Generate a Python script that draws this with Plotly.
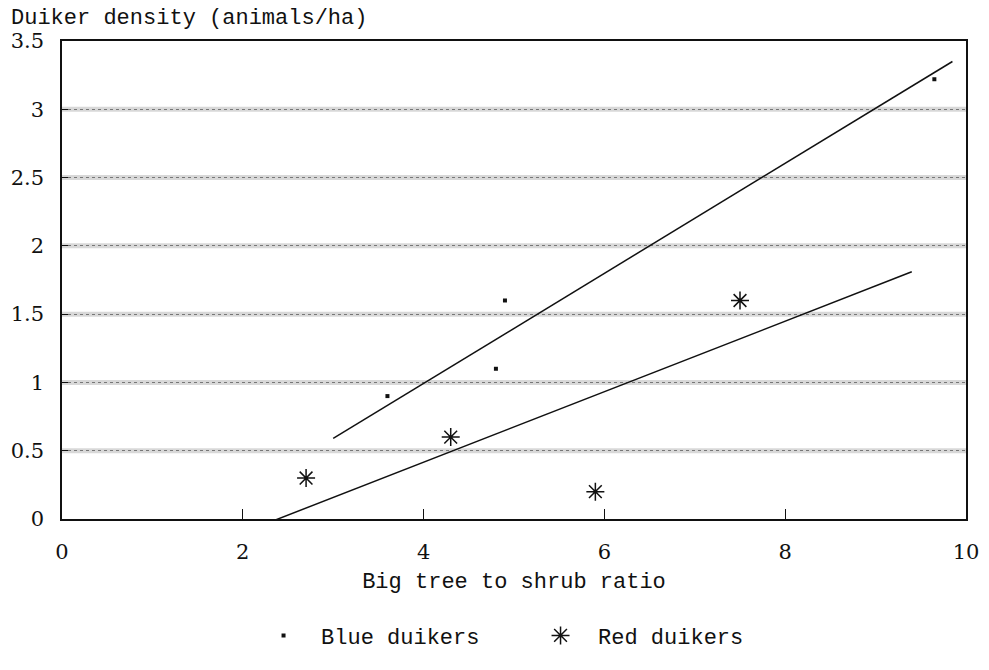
import plotly.graph_objects as go

# Data
blue_x = [3.6, 4.8, 4.9, 9.65]
blue_y = [0.9, 1.1, 1.6, 3.22]
red_x = [2.7, 4.3, 5.9, 7.5]
red_y = [0.3, 0.6, 0.2, 1.6]

# Fitted lines (end points)
blue_fit_x = [3.0, 9.85]
blue_fit_y = [0.59, 3.35]
red_fit_x = [2.35, 9.4]
red_fit_y = [-0.01, 1.81]

x_ticks = [0, 2, 4, 6, 8, 10]
y_ticks = [0, 0.5, 1, 1.5, 2, 2.5, 3, 3.5]
y_tick_text = ["0", "0.5", "1", "1.5", "2", "2.5", "3", "3.5"]
grid_vals = [0.5, 1, 1.5, 2, 2.5, 3]

TXT = "Liberation Mono"
NUM = "DejaVu Serif"

fig = go.Figure()
fig.add_trace(go.Scatter(x=blue_fit_x, y=blue_fit_y, mode="lines",
                         line=dict(color="#111", width=1.5), showlegend=False, hoverinfo="skip"))
fig.add_trace(go.Scatter(x=red_fit_x, y=red_fit_y, mode="lines",
                         line=dict(color="#111", width=1.5), showlegend=False, hoverinfo="skip"))
fig.add_trace(go.Scatter(x=blue_x, y=blue_y, mode="markers", name="Blue duikers",
                         marker=dict(symbol="square", size=4, color="#111")))
fig.add_trace(go.Scatter(x=red_x, y=red_y, mode="markers", name="Red duikers",
                         marker=dict(symbol="asterisk-open", size=15, color="#111",
                                     line=dict(color="#111", width=1.5))))

# soft gray bands under the dotted grid lines
shapes = [dict(type="line", xref="paper", yref="y", x0=0, x1=1, y0=v, y1=v,
               layer="below", line=dict(color="#d8d8d8", width=5)) for v in grid_vals]

fig.update_layout(
    width=989, height=670,
    margin=dict(l=62, r=23, t=41, b=151),
    paper_bgcolor="white", plot_bgcolor="white",
    font=dict(family=TXT, size=22, color="#111"),
    xaxis=dict(range=[0, 10], tickvals=x_ticks, ticks="inside", ticklen=10,
               tickcolor="#111", showline=True, linecolor="#111", linewidth=1.5,
               mirror=True, showgrid=False, zeroline=False, automargin=False,
               ticklabelstandoff=13,
               tickfont=dict(family=NUM, size=21, color="#111"),
               title=dict(text="Big tree to shrub ratio", standoff=10,
                          font=dict(family=TXT, size=22))),
    yaxis=dict(range=[0, 3.5], tickvals=y_ticks, ticktext=y_tick_text,
               ticks="inside", ticklen=6, tickcolor="#111", automargin=False,
               ticklabelstandoff=12,
               showline=True, linecolor="#111", linewidth=1.5, mirror=True,
               showgrid=True, gridcolor="#777", gridwidth=1, griddash="dot",
               zeroline=False,
               tickfont=dict(family=NUM, size=21, color="#111")),
    legend=dict(orientation="h", x=0.51, xanchor="center", y=-0.2, yanchor="top",
                font=dict(family=TXT, size=22), itemwidth=65, entrywidth=197),
    shapes=shapes,
    annotations=[dict(text="Duiker density (animals/ha)", xref="paper", yref="paper",
                      x=-0.0575, y=1.0, xanchor="left", yanchor="bottom", yshift=9,
                      borderpad=0, showarrow=False, font=dict(family=TXT, size=22))],
)

fig.write_html("out.html", config={"displayModeBar": False},
               post_script="document.body.style.margin='0';")
